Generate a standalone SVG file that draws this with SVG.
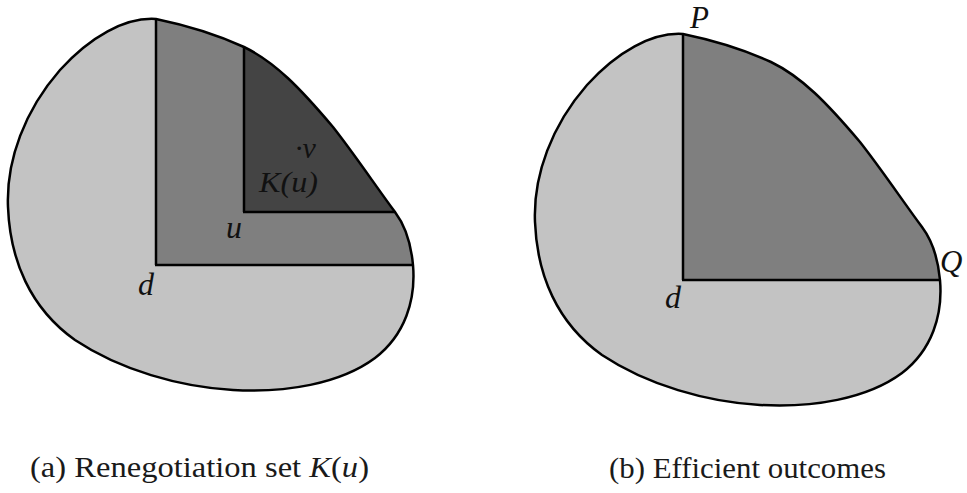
<svg xmlns="http://www.w3.org/2000/svg" xmlns:xlink="http://www.w3.org/1999/xlink" width="967" height="493" viewBox="0 0 967 493">
<style>
.blob{fill:#c3c3c3;stroke:none}
.outline{fill:none;stroke:#000;stroke-width:2.5;stroke-linejoin:round}
.edge{stroke:#000;stroke-width:2.5;fill:none}
.mid{fill:#7f7f7f}
.dark{fill:#444444}
.lbl{font-family:"Liberation Serif","Times New Roman",serif;font-style:italic;fill:#111}
.cap{font-family:"Liberation Serif","Times New Roman",serif;fill:#1a1a1a;font-size:29px}
</style>
<defs>
<path id="shape" d="M156,19 C190,26 220,36 244,47 C275,62 300,88 333,127 C355,155 375,185 395,212 C404,224 411,243 413,265 C416,300 405,335 375,358 C340,384 285,393 233,390 C180,387 120,370 75,340 C30,308 10,260 8,207 C6,160 25,110 60,70 C90,37 125,17 156,19 Z"/>
<clipPath id="clipA"><use xlink:href="#shape"/></clipPath>
<clipPath id="clipB"><use xlink:href="#shape" transform="translate(527,15)"/></clipPath>
</defs>

<g id="panel-a">
  <g id="set-a">
    <use xlink:href="#shape" class="blob"/>
    <g clip-path="url(#clipA)">
      <rect class="mid" x="156" y="0" width="280" height="265"/>
      <rect class="dark" x="244" y="0" width="200" height="212"/>
    </g>
  </g>
  <g id="connectors-a">
    <line class="edge" x1="156" y1="19" x2="156" y2="265"/>
    <line class="edge" x1="155" y1="265" x2="413" y2="265"/>
    <line class="edge" x1="244" y1="47" x2="244" y2="212"/>
    <line class="edge" x1="243" y1="212" x2="395" y2="212"/>
    <use xlink:href="#shape" class="outline"/>
  </g>
  <g id="labels-a">
    <text class="lbl" x="138" y="295" font-size="32">d</text>
    <text class="lbl" x="226" y="238" font-size="32">u</text>
    <text class="lbl" x="259" y="192" font-size="30" textLength="59" lengthAdjust="spacingAndGlyphs">K(u)</text>
    <text class="lbl" x="295" y="158" font-size="30">·v</text>
  </g>
  <text id="caption-a" class="cap" x="30" y="477" textLength="339" lengthAdjust="spacingAndGlyphs">(a) Renegotiation set <tspan font-style="italic">K</tspan>(<tspan font-style="italic">u</tspan>)</text>
</g>

<g id="panel-b">
  <g id="set-b">
    <use xlink:href="#shape" class="blob" transform="translate(527,15)"/>
    <g clip-path="url(#clipB)">
      <rect class="mid" x="683" y="0" width="280" height="280"/>
    </g>
  </g>
  <g id="connectors-b">
    <line class="edge" x1="683" y1="34" x2="683" y2="280"/>
    <line class="edge" x1="682" y1="280" x2="940" y2="280"/>
    <use xlink:href="#shape" class="outline" transform="translate(527,15)"/>
  </g>
  <g id="labels-b">
    <text class="lbl" x="690" y="28" font-size="31">P</text>
    <text class="lbl" x="940" y="272" font-size="31">Q</text>
    <text class="lbl" x="665" y="308" font-size="32">d</text>
  </g>
  <text id="caption-b" class="cap" x="609" y="478" textLength="277" lengthAdjust="spacingAndGlyphs">(b) Efficient outcomes</text>
</g>
</svg>
